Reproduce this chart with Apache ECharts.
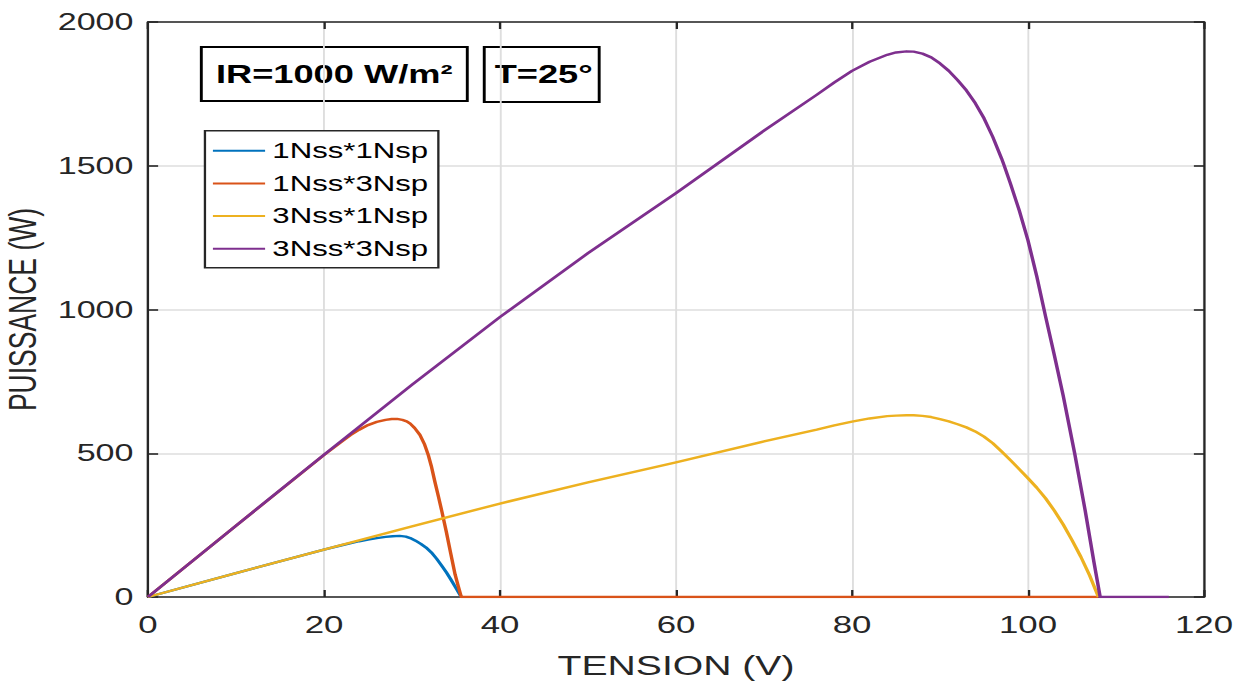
<!DOCTYPE html>
<html>
<head>
<meta charset="utf-8">
<script src="https://cdn.jsdelivr.net/npm/echarts@6/dist/echarts.min.js"></script>
<style>
  html, body { margin: 0; padding: 0; background: #fff; overflow: hidden; }
  #wrap { width: 1245px; height: 686px; overflow: hidden; }
  /* figure is laid out narrow, then widened to the page */
  #chart { width: 859px; height: 686px; transform: scaleX(1.4494); transform-origin: 0 0; }
</style>
</head>
<body>
<div id="wrap"><div id="chart"></div></div>
<script>
// Tick labels
const xTicks = [0, 20, 40, 60, 80, 100, 120];
const yTicks = [0, 500, 1000, 1500, 2000];

// Series names
const seriesNames = ['1Nss*1Nsp', '1Nss*3Nsp', '3Nss*1Nsp', '3Nss*3Nsp'];

// 1 module in series, 1 string in parallel
const v11 = [0, 10, 20, 22, 24, 25, 26, 27, 27.8, 28.6, 29.3, 29.8, 30.4, 31, 31.6, 32.2, 32.8, 33.4, 33.9, 34.4, 34.9, 35.6];
const p11 = [0, 83, 165, 180, 194, 200, 205, 209, 211.5, 212.5, 210, 205, 196, 185, 172, 155, 133, 108, 86, 62, 36, 0];

// 1 module in series, 3 strings in parallel
const v13 = [0, 10, 20, 22, 23, 24, 25, 26, 27, 27.7, 28.3, 28.9, 29.4, 29.8, 30.3, 30.9, 31.4, 31.85, 32.2, 32.6, 33.0, 33.4, 33.9, 34.4, 34.9, 35.25, 35.6, 108];
const p13 = [0, 248, 494, 540, 563, 582, 598, 609, 616, 619, 619.5, 616, 611, 603, 588, 564, 533, 494, 455, 401, 350, 297, 227, 152, 78, 38, 0, 0];

// 3 modules in series, 1 string in parallel
const v31 = [0, 10, 20, 30, 40, 50, 60, 70, 76, 78, 80, 82, 84, 85, 86.2, 87, 88, 89, 90, 91, 92, 93, 94, 95, 96, 97, 98, 99, 100, 101, 102, 103, 104, 105, 106, 107, 108];
const p31 = [0, 83, 165, 246, 325, 399, 468, 541, 582, 597, 610, 621, 629, 631, 632, 632, 630, 626, 619, 611, 601, 590, 576, 558, 535, 506, 476, 445, 413, 380, 343, 300, 252, 198, 140, 75, 0];

// 3 modules in series, 3 strings in parallel
const v33 = [0, 10, 20, 30, 40, 50, 60, 70, 76, 78, 80, 82, 84, 85, 86.2, 87, 88, 89, 90, 91, 92, 93, 94, 95, 96, 97, 97.3, 98, 99, 100, 101, 102, 103, 104, 105.3, 106.5, 107.5, 108.2, 116];
const p33 = [0, 248, 495, 738, 974, 1196, 1405, 1622, 1747, 1790, 1830, 1862, 1886, 1894, 1898, 1897, 1890, 1877, 1856, 1830, 1798, 1762, 1718, 1665, 1600, 1525, 1500, 1438, 1345, 1240, 1115, 975, 840, 700, 500, 300, 120, 0, 0];

const colors = ['#0072BD', '#D95319', '#EDB120', '#7E2F8E'];

const pairs = (v, p) => v.map((x, i) => [x, p[i]]);
const curves = [pairs(v11, p11), pairs(v13, p13), pairs(v31, p31), pairs(v33, p33)];

const axisColor = '#262626';
const font = 'Liberation Sans, Arial, Helvetica, sans-serif';

const chart = echarts.init(document.getElementById('chart'), null, { renderer: 'svg' });

const edgeAxis = {
  type: 'value',
  axisLine: { show: true, onZero: false, lineStyle: { color: axisColor, width: 1.6 } },
  axisTick: { show: true, inside: true, length: 7, lineStyle: { color: axisColor, width: 1.6 } },
  axisLabel: { show: false },
  splitLine: { show: false }
};

chart.setOption({
  animation: false,
  backgroundColor: '#fff',
  color: colors,
  grid: { left: 102.1, right: 28.3, top: 22, bottom: 89, containLabel: false, outerBoundsMode: 'none' },
  xAxis: [
    {
      type: 'value', position: 'bottom',
      min: xTicks[0], max: xTicks[xTicks.length - 1], interval: xTicks[1] - xTicks[0],
      axisLine: { show: true, onZero: false, lineStyle: { color: axisColor, width: 1.6 } },
      axisTick: { show: true, inside: true, length: 7, lineStyle: { color: axisColor, width: 1.6 } },
      axisLabel: { color: axisColor, fontSize: 24, fontFamily: font, margin: 16, formatter: v => String(v) },
      splitLine: { show: true, lineStyle: { color: '#dedede', width: 1.3 } },
      name: 'TENSION (V)', nameLocation: 'middle', nameGap: 55,
      nameTextStyle: { color: axisColor, fontSize: 27, fontFamily: font }
    },
    Object.assign({}, edgeAxis, {
      position: 'top', min: xTicks[0], max: xTicks[xTicks.length - 1], interval: xTicks[1] - xTicks[0]
    })
  ],
  yAxis: [
    {
      type: 'value', position: 'left',
      min: yTicks[0], max: yTicks[yTicks.length - 1], interval: yTicks[1] - yTicks[0],
      axisLine: { show: true, onZero: false, lineStyle: { color: axisColor, width: 1.6 } },
      axisTick: { show: true, inside: true, length: 7, lineStyle: { color: axisColor, width: 1.6 } },
      axisLabel: { color: axisColor, fontSize: 23.5, fontFamily: font, margin: 10, formatter: v => String(v) },
      splitLine: { show: true, lineStyle: { color: '#dedede', width: 1.5 } },
      name: 'PUISSANCE (W)', nameLocation: 'middle', nameGap: 68,
      nameTextStyle: { color: axisColor, fontSize: 26.5, fontFamily: font }
    },
    Object.assign({}, edgeAxis, {
      position: 'right', min: yTicks[0], max: yTicks[yTicks.length - 1], interval: yTicks[1] - yTicks[0]
    })
  ],
  legend: {
    orient: 'vertical',
    left: 141.4, top: 130.7,
    data: seriesNames.map(n => ({ name: n, icon: 'rect' })),
    backgroundColor: '#fff',
    borderColor: axisColor, borderWidth: 1.6,
    padding: [9, 7, 8, 5.5],
    itemWidth: 36, itemHeight: 2, itemGap: 10.7,
    textStyle: { color: '#000', fontSize: 21.5, fontFamily: font, lineHeight: 22 }
  },
  series: curves.map((d, i) => ({
    name: seriesNames[i],
    type: 'line',
    xAxisIndex: 0, yAxisIndex: 0,
    data: d,
    symbol: 'none',
    smooth: false,
    lineStyle: { width: 2.4, color: colors[i], join: 'round' },
    itemStyle: { color: colors[i] },
    z: 3 + i
  })),
  graphic: [
    {
      type: 'group', left: 137.9, top: 46, z: 100,
      children: [
        { type: 'rect', shape: { x: 0, y: 0, width: 183.5, height: 54 },
          style: { fill: '#fff', stroke: '#000', lineWidth: 2 } },
        { type: 'text',
          style: { text: 'IR=1000 W/m\u00B2', x: 91.7, y: 28, align: 'center', verticalAlign: 'middle',
                   fontSize: 25, fontWeight: 'bold', fontFamily: font, fill: '#000' } }
      ]
    },
    {
      type: 'group', left: 333.1, top: 46, z: 100,
      children: [
        { type: 'rect', shape: { x: 0, y: 0, width: 79.3, height: 55 },
          style: { fill: '#fff', stroke: '#000', lineWidth: 2 } },
        { type: 'text',
          style: { text: 'T=25\u00B0', x: 41, y: 28, align: 'center', verticalAlign: 'middle',
                   fontSize: 25, fontWeight: 'bold', fontFamily: font, fill: '#000' } }
      ]
    }
  ]
});
</script>
</body>
</html>
